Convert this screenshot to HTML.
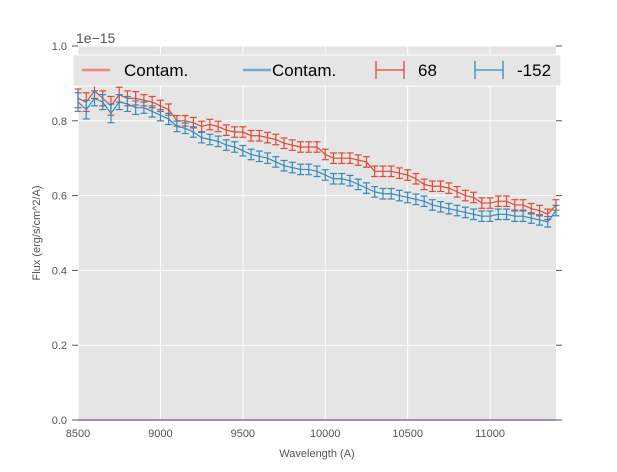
<!DOCTYPE html>
<html><head><meta charset="utf-8"><style>
body{margin:0;background:#fff;font-family:"Liberation Sans","DejaVu Sans",sans-serif}
</style></head><body>
<svg id="c" width="617" height="467" xmlns="http://www.w3.org/2000/svg">
<rect x="78" y="46" width="478" height="374" fill="#e5e5e5"/>
<g id="grid"></g><g id="axes"></g><g id="series"></g>
<text x="76" y="43" font-size="14" fill="#555">1e−15</text>
<text x="317" y="457" font-size="11" fill="#555" text-anchor="middle">Wavelength (A)</text>
<text x="40" y="233" font-size="11" fill="#555" text-anchor="middle" transform="rotate(-90 40 233)">Flux (erg/s/cm^2/A)</text>
<g>
<rect x="73" y="55" width="488" height="31" fill="#e5e5e5" stroke="#fff" stroke-width="1"/>
<line x1="82" y1="70" x2="110" y2="70" stroke="#ee8a78" stroke-width="2.5"/>
<text x="124" y="76" font-size="17" fill="#000">Contam.</text>
<line x1="243" y1="70" x2="271" y2="70" stroke="#6ea9d1" stroke-width="2.5"/>
<text x="272" y="76" font-size="17" fill="#000">Contam.</text>
<g stroke="#e24a33" stroke-width="1.3"><line x1="376" y1="70" x2="404" y2="70"/><line x1="376" y1="61" x2="376" y2="79"/><line x1="404" y1="61" x2="404" y2="79"/></g>
<text x="418" y="76" font-size="17" fill="#000">68</text>
<g stroke="#348abd" stroke-width="1.3"><line x1="475" y1="70" x2="503" y2="70"/><line x1="475" y1="61" x2="475" y2="79"/><line x1="503" y1="61" x2="503" y2="79"/></g>
<text x="517" y="76" font-size="17" fill="#000">-152</text>
</g>
</svg>
<script>
const wavelengths=[8500,8550,8600,8650,8700,8750,8800,8850,8900,8950,9000,9050,9100,9150,9200,9250,9300,9350,9400,9450,9500,9550,9600,9650,9700,9750,9800,9850,9900,9950,10000,10050,10100,10150,10200,10250,10300,10350,10400,10450,10500,10550,10600,10650,10700,10750,10800,10850,10900,10950,11000,11050,11100,11150,11200,11250,11300,11350,11400];
const flux68=[0.86,0.85,0.88,0.86,0.84,0.87,0.86,0.86,0.855,0.85,0.84,0.83,0.80,0.80,0.795,0.785,0.79,0.785,0.775,0.77,0.77,0.76,0.76,0.755,0.75,0.74,0.735,0.73,0.73,0.73,0.71,0.70,0.70,0.70,0.695,0.69,0.665,0.665,0.665,0.66,0.655,0.645,0.63,0.625,0.625,0.62,0.61,0.60,0.595,0.58,0.58,0.585,0.585,0.575,0.575,0.565,0.56,0.55,0.575];
const flux152=[0.85,0.83,0.86,0.85,0.82,0.85,0.845,0.835,0.835,0.825,0.815,0.805,0.785,0.78,0.77,0.755,0.75,0.745,0.735,0.73,0.72,0.71,0.705,0.70,0.69,0.68,0.675,0.67,0.67,0.665,0.655,0.645,0.645,0.64,0.63,0.62,0.61,0.605,0.605,0.60,0.595,0.59,0.585,0.575,0.57,0.565,0.56,0.555,0.55,0.545,0.545,0.55,0.55,0.545,0.545,0.54,0.535,0.53,0.56];
const err68=[0.025,0.025,0.02,0.02,0.025,0.02,0.02,0.018,0.015,0.015,0.015,0.015,0.014,0.014,0.014,0.014,0.014,0.014,0.014,0.014,0.014,0.014,0.014,0.014,0.014,0.014,0.014,0.014,0.014,0.014,0.014,0.014,0.014,0.014,0.014,0.014,0.014,0.014,0.014,0.014,0.014,0.014,0.014,0.014,0.014,0.014,0.014,0.014,0.014,0.014,0.014,0.014,0.014,0.014,0.014,0.014,0.014,0.014,0.014];
const err152=err68;
const contamRed=wavelengths.map(()=>0);
const xTicks=[8500,9000,9500,10000,10500,11000];
const yTicks=[0,0.2,0.4,0.6,0.8,1.0];
const yTickLabels=["0.0","0.2","0.4","0.6","0.8","1.0"];
const X0=78,X1=556,Y0=420,Y1=46;
const xs=v=>X0+(v-8500)/(11400-8500)*(X1-X0);
const ys=v=>Y0-v*(Y0-Y1);
const NS="http://www.w3.org/2000/svg";
function mk(t,a,p){const e=document.createElementNS(NS,t);for(const k in a)e.setAttribute(k,a[k]);p.appendChild(e);return e;}
const grid=document.getElementById('grid'),axes=document.getElementById('axes'),ser=document.getElementById('series');
xTicks.forEach(t=>{
 const l=mk('line',{x1:xs(t),x2:xs(t),y1:Y1,y2:Y0,stroke:'#fff','stroke-width':1},grid);
 
 
 const tx=mk('text',{x:xs(t),y:Y0+17,'font-size':11,fill:'#555','text-anchor':'middle'},axes);tx.textContent=t;
 
 
});
yTicks.forEach((t,i)=>{
 const l=mk('line',{x1:X0,x2:X1,y1:ys(t),y2:ys(t),stroke:'#fff','stroke-width':1},grid);
 
 
 mk('line',{x1:X0-6,x2:X0,y1:ys(t),y2:ys(t),stroke:'#555'},axes);
 mk('line',{x1:X1,x2:X1+6,y1:ys(t),y2:ys(t),stroke:'#555'},axes);
 const tx=mk('text',{x:X0-11,y:ys(t)+4,'font-size':11,fill:'#555','text-anchor':'end'},axes);tx.textContent=yTickLabels[i];
 
 
});
function series(vals,errs,col,name){
 const g=mk('g',{stroke:col,fill:'none','stroke-width':1.2},ser);
 
 
 mk('polyline',{points:wavelengths.map((w,i)=>xs(w)+','+ys(vals[i])).join(' ')},g);
 wavelengths.forEach((w,i)=>{const x=xs(w),a=ys(vals[i]+errs[i]),b=ys(vals[i]-errs[i]);
  mk('line',{x1:x,x2:x,y1:a,y2:b},g);mk('line',{x1:x-3.5,x2:x+3.5,y1:a,y2:a},g);mk('line',{x1:x-3.5,x2:x+3.5,y1:b,y2:b},g);});
}
const cl=mk('polyline',{points:wavelengths.map((w,i)=>xs(w)+','+ys(contamRed[i])).join(' '),stroke:'#a08cb0','stroke-width':2,fill:'none'},ser);


series(flux68,err68,'#e24a33','series-68');
series(flux152,err152,'#348abd','series-minus-152');
</script>
</body></html>
